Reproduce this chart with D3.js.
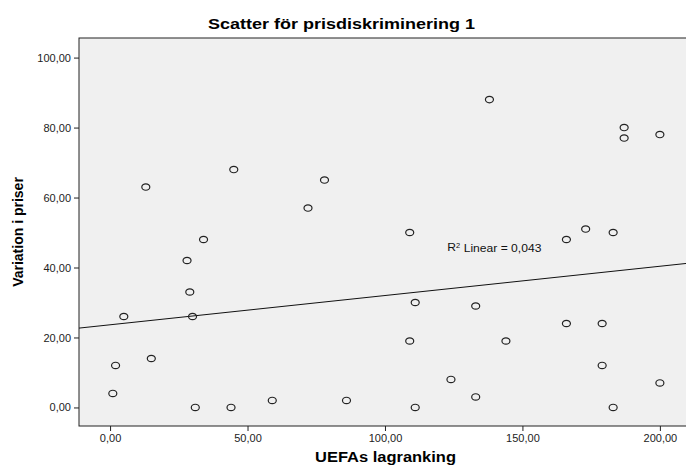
<!DOCTYPE html>
<html>
<head>
<meta charset="utf-8">
<script src="https://cdn.jsdelivr.net/npm/d3@7"></script>
<style>
  body { margin: 0; background: #fff; }
  text { font-family: "Liberation Sans", Arial, sans-serif; }
  .tick text { font-size: 11px; fill: #222; }
  .titel { font-size: 15.5px; font-weight: bold; }
  .axeltitel { font-size: 14px; font-weight: bold; }
</style>
</head>
<body>
<div id="chart"></div>
<script>
// UEFAs lagranking (x) och variation i priser (y)
const rankning = [1, 2, 5, 13, 15, 28, 29, 30, 31, 34, 44, 45, 59, 72, 78, 86,
  109, 109, 111, 111, 124, 133, 133, 138, 144, 166, 166, 173, 179, 179, 183, 183,
  187, 187, 200, 200];
const variation = [4, 12, 26, 63, 14, 42, 33, 26, 0, 48, 0, 68, 2, 57, 65, 2,
  50, 19, 30, 0, 8, 29, 3, 88, 19, 48, 24, 51, 24, 12, 50, 0,
  80, 77, 78, 7];
const xTicks = [0, 50, 100, 150, 200];
const yTicks = [0, 20, 40, 60, 80, 100];
const r2Text = "Linear = 0,043";

const w = 686, h = 466;
const margin = { top: 38, right: 0, bottom: 40, left: 79 };

const svg = d3.select("#chart")
  .append("svg")
  .attr("width", w)
  .attr("height", h);

const xScale = d3.scaleLinear()
  .domain([-11.3, 209.5])
  .range([margin.left, w - margin.right]);

const yScale = d3.scaleLinear()
  .domain([-5.3, 105.6])
  .range([h - margin.bottom, margin.top]);

const fmt = d => d3.format(".2f")(d).replace(".", ",");

// plotyta
svg.append("rect")
  .attr("x", margin.left)
  .attr("y", margin.top)
  .attr("width", w - margin.left + 5)
  .attr("height", h - margin.bottom - margin.top)
  .attr("fill", "#f0f0f0")
  .attr("stroke", "#222")
  .attr("stroke-width", 1);

// axlar
const xAxis = d3.axisBottom(xScale).tickValues(xTicks).tickFormat(fmt).tickSize(5).tickSizeOuter(0);
const yAxis = d3.axisLeft(yScale).tickValues(yTicks).tickFormat(fmt).tickSize(5).tickSizeOuter(0);

svg.append("g")
  .attr("transform", `translate(0,${h - margin.bottom})`)
  .call(xAxis)
  .call(g => g.select(".domain").remove())
  .call(g => g.selectAll(".tick line").attr("stroke", "#222"))
  .call(g => g.selectAll(".tick text").attr("dy", "0.72em"));

svg.append("g")
  .attr("transform", `translate(${margin.left},0)`)
  .call(yAxis)
  .call(g => g.select(".domain").remove())
  .call(g => g.selectAll(".tick line").attr("stroke", "#222"));

// regressionslinje (minsta kvadrat)
const n = rankning.length;
const mx = d3.mean(rankning), my = d3.mean(variation);
let sxy = 0, sxx = 0;
for (let i = 0; i < n; i++) {
  sxy += (rankning[i] - mx) * (variation[i] - my);
  sxx += (rankning[i] - mx) ** 2;
}
const m = sxy / sxx, b = my - m * mx;
const [x0, x1] = xScale.domain();

svg.append("line")
  .attr("x1", xScale(x0))
  .attr("y1", yScale(b + m * x0))
  .attr("x2", xScale(x1))
  .attr("y2", yScale(b + m * x1))
  .attr("stroke", "#111")
  .attr("stroke-width", 1);

// punkter
svg.append("g")
  .selectAll("ellipse")
  .data(rankning)
  .join("ellipse")
  .attr("cx", d => xScale(d))
  .attr("cy", (d, i) => yScale(variation[i]))
  .attr("rx", 4)
  .attr("ry", 3.2)
  .attr("fill", "none")
  .attr("stroke", "#222")
  .attr("stroke-width", 1.2);

// R2-etikett
const r2 = svg.append("text")
  .attr("x", xScale(122.7))
  .attr("y", yScale(44.8))
  .attr("textLength", 94)
  .attr("lengthAdjust", "spacingAndGlyphs")
  .style("font-size", "10.5px")
  .attr("fill", "#111");
r2.append("tspan").text("R");
r2.append("tspan").text("2").attr("dy", "-0.4em").style("font-size", "6.5px");
r2.append("tspan").text(" " + r2Text).attr("dy", "0.4em");

// titlar
svg.append("text")
  .attr("class", "titel")
  .attr("x", 208)
  .attr("y", 28.5)
  .attr("textLength", 267)
  .attr("lengthAdjust", "spacingAndGlyphs")
  .text("Scatter för prisdiskriminering 1");

svg.append("text")
  .attr("class", "axeltitel")
  .attr("x", 315)
  .attr("y", 462)
  .attr("textLength", 141)
  .attr("lengthAdjust", "spacingAndGlyphs")
  .text("UEFAs lagranking");

svg.append("text")
  .attr("class", "axeltitel")
  .attr("transform", "translate(23,232) rotate(-90)")
  .attr("text-anchor", "middle")
  .text("Variation i priser");
</script>
</body>
</html>
